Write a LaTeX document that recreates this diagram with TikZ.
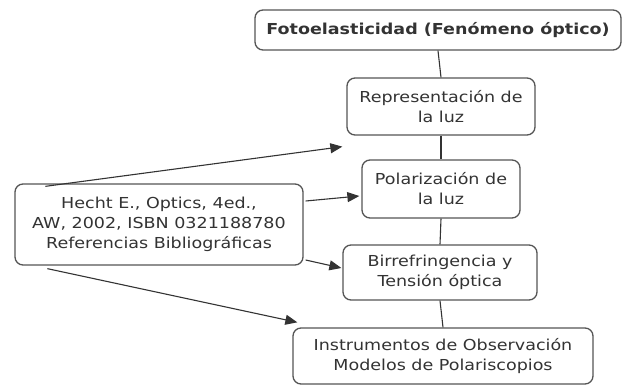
\documentclass[tikz,border=0pt]{standalone}
\usepackage{fontspec}
\setmainfont[FakeStretch=1.16]{DejaVu Sans}
\usetikzlibrary{arrows.meta}
\definecolor{boxline}{HTML}{555555}
\definecolor{txt}{HTML}{333333}
\begin{document}
\begin{tikzpicture}[x=1pt,y=-1pt,
  box/.style={draw=boxline,line width=1.3pt,rounded corners=8pt,fill=white,
    align=center,text=txt,inner sep=0pt,font=\fontsize{15.1}{20}\selectfont},
  link/.style={draw=txt,line width=1.1pt},
  arr/.style={link,-{Triangle[length=12pt,width=10pt]}}]
\useasboundingbox (0,0) rectangle (629,387);
\node[box,minimum width=366pt,minimum height=40pt,font=\fontsize{15.1}{18}\selectfont\bfseries] (top) at (438,30) {Fotoelasticidad (Fenómeno óptico)};
\node[box,minimum width=188pt,minimum height=57pt] (rep) at (441,106.5) {Representación de\\la luz};
\node[box,minimum width=158pt,minimum height=58pt] (pol) at (441,189) {Polarización de\\la luz};
\node[box,minimum width=194pt,minimum height=55pt] (bir) at (440,272.5) {Birrefringencia y\\Tensión óptica};
\node[box,minimum width=300pt,minimum height=56pt] (ins) at (443,356) {Instrumentos de Observación\\Modelos de Polariscopios};
\node[box,minimum width=288pt,minimum height=81pt] (hecht) at (159,224.5) {Hecht E., Optics, 4ed.,\\AW, 2002, ISBN 0321188780\\Referencias Bibliográficas};
\draw[link] (top.south) -- (rep.north);
\draw[link] (rep.south) -- (pol.north);
\draw[link] (pol.south) -- (bir.north);
\draw[link] (bir.south) -- (ins.north);
\draw[arr] ([shift={(31,3)}]hecht.north west) -- ([shift={(-4,11)}]rep.south west);
\draw[arr] ([shift={(2,-23.5)}]hecht.east) -- ([shift={(-2,7)}]pol.west);
\draw[arr] ([shift={(2,35.5)}]hecht.east) -- ([shift={(-1,-4.5)}]bir.west);
\draw[arr] ([shift={(33,3)}]hecht.south west) -- ([shift={(5,-5)}]ins.north west);
\end{tikzpicture}
\end{document}
